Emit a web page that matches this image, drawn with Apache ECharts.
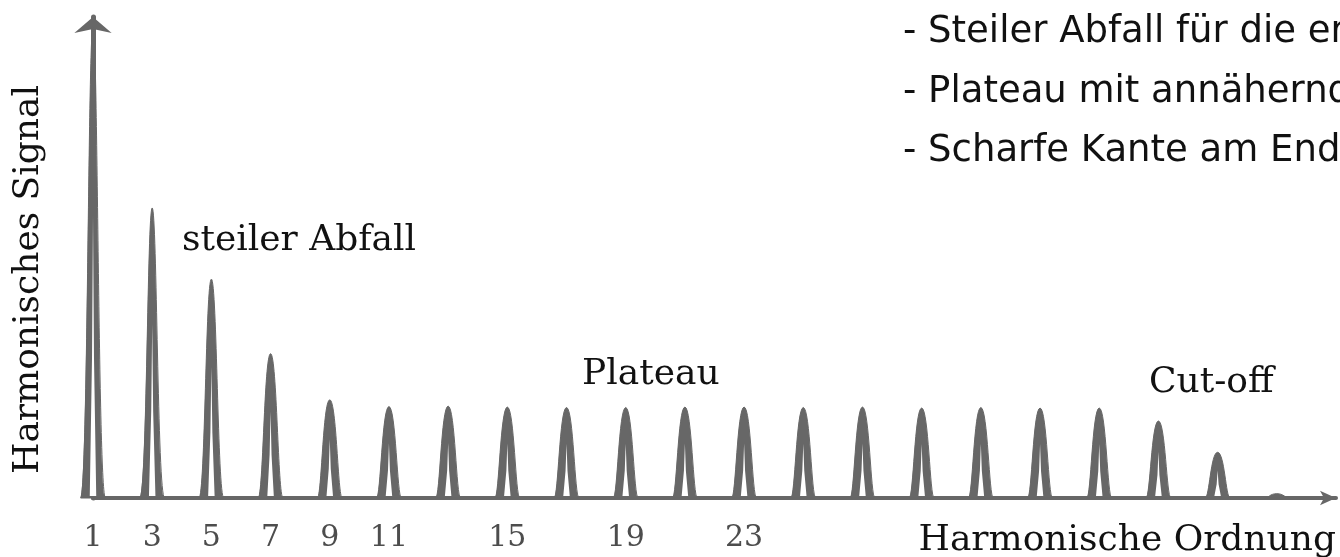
<!DOCTYPE html>
<html>
<head>
<meta charset="utf-8">
<script src="https://cdn.jsdelivr.net/npm/echarts@6/dist/echarts.min.js"></script>
<style>
html,body{margin:0;padding:0;background:#ffffff;}
#chart{width:1340px;height:557px;}
</style>
</head>
<body>
<div id="chart"></div>
<script>
// Harmonic orders (odd harmonics) and their signal (arbitrary units)
const orders = [1, 3, 5, 7, 9, 11, 13, 15, 17, 19, 21, 23, 25, 27, 29, 31, 33, 35, 37, 39, 41];
const signal = [98, 60.3, 45.5, 30, 20.4, 19.0, 19.1, 18.9, 18.8, 18.8, 18.9, 18.9, 18.8, 18.9, 18.7, 18.8, 18.7, 18.7, 16.0, 9.5, 0.9];
// Tick labels shown under the axis
const tickLabels = [1, 3, 5, 7, 9, 11, 15, 19, 23];
// Texts
const xAxisName = 'Harmonische Ordnung';
const yAxisName = 'Harmonisches Signal';
const regionLabels = ['steiler Abfall', 'Plateau', 'Cut-off'];
const notes = [
  '- Steiler Abfall für die ersten Harmonischen',
  '- Plateau mit annähernd konstanter Intensität',
  '- Scharfe Kante am Ende (Cut-off)'
];

const INK = '#676767';
const SERIF = 'DejaVu Serif';

const chart = echarts.init(document.getElementById('chart'), null, {renderer: 'canvas'});

function renderPeak(params, api) {
  const o = api.value(0);
  const v = api.value(1);
  const b = api.coord([o, 0]);
  const t = api.coord([o, v]);
  const hw = api.size([0.42, 0])[0];          // outer half width at the foot
  const H = b[1] - t[1];
  const x = b[0], y = b[1], ty = t[1];
  const f = Math.max(0, Math.min(1, (H - 90) / 200));
  const c1 = hw * (0.66 - 0.25 * f);
  const c2 = hw * (0.56 - 0.17 * f);
  const outer = 'M' + (x - hw) + ',' + y +
    ' C' + (x - c1) + ',' + y + ' ' + (x - c2) + ',' + ty + ' ' + x + ',' + ty +
    ' C' + (x + c2) + ',' + ty + ' ' + (x + c1) + ',' + y + ' ' + (x + hw) + ',' + y + ' Z';
  const children = [{
    type: 'path',
    shape: {pathData: outer},
    style: {fill: INK, stroke: INK, lineWidth: 1}
  }];
  if (H > 20) {
    const sw = hw * 0.26;
    const ys = y - 2;
    const slit = 'M' + (x - sw) + ',' + ys +
      ' L' + (x - sw * 0.3) + ',' + (y - 0.3 * H) +
      ' L' + x + ',' + (y - 0.6 * H) +
      ' L' + (x + sw * 0.3) + ',' + (y - 0.3 * H) +
      ' L' + (x + sw) + ',' + ys + ' Z';
    children.push({type: 'path', shape: {pathData: slit}, style: {fill: '#ffffff'}});
  }
  return {type: 'group', children: children};
}

const option = {
  backgroundColor: '#ffffff',
  animation: false,
  grid: {left: 93, right: 4, top: 17, bottom: 59, containLabel: false, outerBoundsMode: 'none'},
  xAxis: {
    type: 'value',
    min: 1,
    max: 43,
    interval: 1,
    name: xAxisName,
    nameLocation: 'end',
    nameGap: 0,
    nameTextStyle: {
      fontFamily: SERIF, fontSize: 36, color: '#111111',
      align: 'right', verticalAlign: 'top', padding: [25, 0, 0, 0]
    },
    axisLine: {
      show: true,
      symbol: ['none', 'arrow'],
      symbolSize: [11, 16],
      lineStyle: {color: INK, width: 4}
    },
    axisTick: {show: false},
    splitLine: {show: false},
    axisLabel: {
      show: true,
      margin: 25,
      fontFamily: SERIF,
      fontSize: 30,
      color: '#4d4d4d',
      showMaxLabel: false,
      formatter: function (v) { return tickLabels.indexOf(v) >= 0 ? String(v) : ''; }
    }
  },
  yAxis: {
    type: 'value',
    min: 0,
    max: 100,
    name: yAxisName,
    nameLocation: 'middle',
    nameGap: 46,
    nameRotate: 90,
    nameTextStyle: {fontFamily: SERIF, fontSize: 36, color: '#111111', padding: [0, 44, 0, 0]},
    axisLine: {
      show: true,
      symbol: ['none', 'arrow'],
      symbolSize: [28, 16],
      lineStyle: {color: INK, width: 5}
    },
    axisTick: {show: false},
    axisLabel: {show: false},
    splitLine: {show: false}
  },
  series: [{
    type: 'custom',
    name: yAxisName,
    renderItem: renderPeak,
    encode: {x: 0, y: 1},
    clip: false,
    data: orders.map(function (o, i) { return [o, signal[i]]; })
  }],
  graphic: [
    {type: 'text', left: 182, top: 223, style: {text: regionLabels[0], font: '36px "DejaVu Serif"', fill: '#111111'}},
    {type: 'text', left: 582, top: 357, style: {text: regionLabels[1], font: '36px "DejaVu Serif"', fill: '#111111'}},
    {type: 'text', left: 1149, top: 365, style: {text: regionLabels[2], font: '36px "DejaVu Serif"', fill: '#111111'}},
    {type: 'text', left: 903, top: 14, style: {text: notes[0], font: '37px "DejaVu Sans"', fill: '#111111'}},
    {type: 'text', left: 903, top: 74, style: {text: notes[1], font: '37px "DejaVu Sans"', fill: '#111111'}},
    {type: 'text', left: 903, top: 133, style: {text: notes[2], font: '37px "DejaVu Sans"', fill: '#111111'}}
  ]
};
chart.setOption(option);
</script>
</body>
</html>
